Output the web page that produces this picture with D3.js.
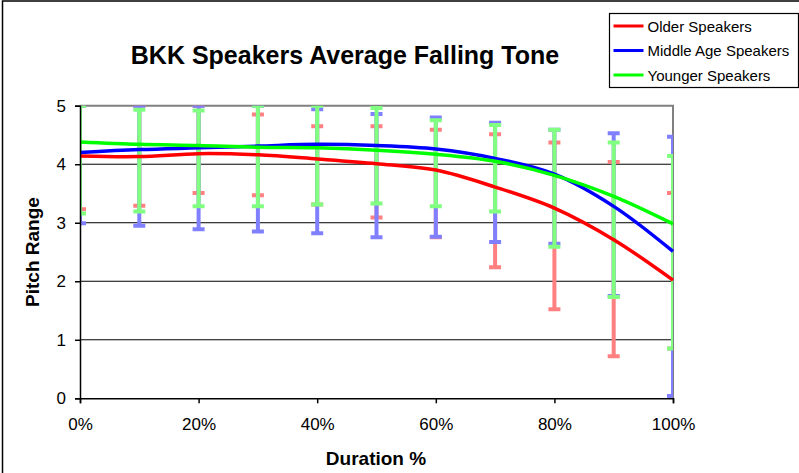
<!DOCTYPE html>
<html>
<head>
<meta charset="utf-8">
<script src="https://cdnjs.cloudflare.com/ajax/libs/d3/7.8.5/d3.min.js"></script>
<style>
  body { margin: 0; background: #fff; }
  #chart-area text { font-family: "Liberation Sans", Arial, sans-serif; }
</style>
</head>
<body>
<div id="chart-area"></div>
<script>

// duration in % of the tone
var durations = [0, 10, 20, 30, 40, 50, 60, 70, 80, 90, 100];

// average pitch per group
var olderMean   = [4.14, 4.13, 4.18, 4.16, 4.09, 4.01, 3.90, 3.61, 3.25, 2.71, 2.02];
var middleMean  = [4.20, 4.25, 4.28, 4.31, 4.34, 4.32, 4.26, 4.10, 3.83, 3.28, 2.51];
var youngerMean = [4.38, 4.34, 4.32, 4.29, 4.28, 4.24, 4.17, 4.05, 3.81, 3.45, 2.98];

// error bar ends
var olderLow    = [3.23, 3.29, 3.51, 3.47, 3.31, 3.09, 2.75, 2.24, 1.52, 0.72, 0.85];
var olderHigh   = [5.00, 5.00, 5.00, 4.85, 4.65, 4.65, 4.59, 4.51, 4.37, 4.04, 3.51];
var middleLow   = [2.99, 2.95, 2.89, 2.85, 2.82, 2.75, 2.76, 2.67, 2.64, 1.75, 0.04];
var middleHigh  = [5.00, 5.00, 5.00, 5.00, 4.94, 4.86, 4.80, 4.71, 4.59, 4.53, 4.47];
var youngerLow  = [3.16, 3.19, 3.28, 3.28, 3.31, 3.33, 3.28, 3.19, 2.59, 1.73, 0.85];
var youngerHigh = [5.00, 4.93, 4.92, 5.00, 5.00, 4.96, 4.75, 4.67, 4.59, 4.37, 4.14];

var seriesNames = ["Older Speakers", "Middle Age Speakers", "Younger Speakers"];
var xTicks = [0, 20, 40, 60, 80, 100];
var yTicks = [0, 1, 2, 3, 4, 5];


fallingToneChart = function(_parentElement){
    this.parentElement = _parentElement;
    this.series = [
        {name: seriesNames[0], mean: olderMean, low: olderLow, high: olderHigh, color: "#ff0000", bar: "#ff8080"},
        {name: seriesNames[1], mean: middleMean, low: middleLow, high: middleHigh, color: "#0000ff", bar: "#8080ff"},
        {name: seriesNames[2], mean: youngerMean, low: youngerLow, high: youngerHigh, color: "#00ff00", bar: "#80ff80"}
    ];
    this.initVis();
}

fallingToneChart.prototype.initVis = function(){
    var vis = this;

    vis.margin = {top: 105.7, right: 126, bottom: 74.7, left: 80};
    vis.width = 799 - vis.margin.left - vis.margin.right;
    vis.height = 473 - vis.margin.top - vis.margin.bottom;

    vis.root = d3.select("#" + vis.parentElement)
        .append("svg")
        .attr("width", 799)
        .attr("height", 473);

    // outer chart border
    vis.root.append("rect")
        .attr("x", 2.5).attr("y", 1)
        .attr("width", 820).attr("height", 500)
        .style("fill", "none")
        .style("stroke", "#000")
        .style("stroke-width", 1.5);

    vis.svg = vis.root.append("g")
        .attr("transform", "translate(" + vis.margin.left + "," + vis.margin.top + ")");

    vis.x = d3.scaleLinear().domain([0, 100]).range([0, vis.width]);
    vis.y = d3.scaleLinear().domain([0, 5]).range([vis.height, 0]);

    vis.svg.append("clipPath").attr("id", "plot-clip")
        .append("rect")
        .attr("width", vis.width)
        .attr("height", vis.height);

    // gridlines
    vis.svg.append("g")
        .selectAll("line")
        .data(yTicks.filter(function(d) { return d > 0 && d < 5; }))
        .enter().append("line")
        .attr("x1", 0).attr("x2", vis.width)
        .attr("y1", function(d) { return vis.y(d); })
        .attr("y2", function(d) { return vis.y(d); })
        .style("stroke", "#000")
        .style("stroke-width", 1);

    // plot area border (top / right)
    vis.svg.append("path")
        .attr("d", "M0," + vis.y(5) + "H" + vis.width + "V" + vis.height)
        .style("fill", "none")
        .style("stroke", "#808080")
        .style("stroke-width", 2);

    // error bars
    var plot = vis.svg.append("g").attr("clip-path", "url(#plot-clip)");
    vis.series.forEach(function(s) {
        var g = plot.append("g");
        g.selectAll(".bar").data(durations).enter().append("line")
            .attr("x1", function(d) { return vis.x(d); })
            .attr("x2", function(d) { return vis.x(d); })
            .attr("y1", function(d, i) { return vis.y(s.low[i]); })
            .attr("y2", function(d, i) { return vis.y(s.high[i]); })
            .style("stroke", s.bar)
            .style("stroke-width", 4);
        ["low", "high"].forEach(function(k) {
            g.selectAll(".cap-" + k).data(durations).enter().append("line")
                .attr("x1", function(d) { return vis.x(d) - 6; })
                .attr("x2", function(d) { return vis.x(d) + 6; })
                .attr("y1", function(d, i) { return vis.y(s[k][i]); })
                .attr("y2", function(d, i) { return vis.y(s[k][i]); })
                .style("stroke", s.bar)
                .style("stroke-width", 4);
        });
    });

    // smoothed lines
    vis.line = d3.line()
        .x(function(d) { return vis.x(d[0]); })
        .y(function(d) { return vis.y(d[1]); })
        .curve(d3.curveCatmullRom.alpha(0.5));

    vis.series.forEach(function(s) {
        vis.svg.append("path")
            .datum(durations.map(function(d, i) { return [d, s.mean[i]]; }))
            .attr("d", vis.line)
            .style("fill", "none")
            .style("stroke", s.color)
            .style("stroke-width", 3.5);
    });

    // axes
    vis.xAxis = d3.axisBottom(vis.x).tickValues(xTicks)
        .tickFormat(function(d) { return d + "%"; })
        .tickSize(5).tickPadding(15);
    vis.yAxis = d3.axisLeft(vis.y).tickValues(yTicks)
        .tickFormat(d3.format("d"))
        .tickSize(5).tickPadding(9);

    vis.svg.append("g")
        .attr("class", "axis x-axis")
        .attr("transform", "translate(0," + vis.height + ")")
        .call(vis.xAxis);
    vis.svg.append("g")
        .attr("class", "axis y-axis")
        .call(vis.yAxis);

    vis.svg.selectAll(".axis path, .axis line")
        .style("stroke", "#000")
        .style("stroke-width", 1.5);
    vis.svg.selectAll(".axis text")
        .style("font-size", "17px")
        .style("fill", "#000");

    // titles
    vis.root.append("text")
        .attr("x", 345).attr("y", 64)
        .attr("text-anchor", "middle")
        .style("font-size", "25px")
        .style("font-weight", "bold")
        .text("BKK Speakers Average Falling Tone");

    vis.root.append("text")
        .attr("x", 376).attr("y", 465)
        .attr("text-anchor", "middle")
        .style("font-size", "19px")
        .style("font-weight", "bold")
        .text("Duration %");

    vis.root.append("text")
        .attr("transform", "translate(39," + (vis.margin.top + vis.height / 2) + ") rotate(-90)")
        .attr("text-anchor", "middle")
        .style("font-size", "19px")
        .style("font-weight", "bold")
        .text("Pitch Range");

    // legend
    var legend = vis.root.append("g").attr("transform", "translate(609.5,13.5)");
    legend.append("rect")
        .attr("width", 189).attr("height", 74)
        .style("fill", "#fff")
        .style("stroke", "#000")
        .style("stroke-width", 1.2);
    var rows = legend.selectAll(".row").data(vis.series).enter().append("g")
        .attr("transform", function(d, i) { return "translate(0," + (12.5 + i * 24.5) + ")"; });
    rows.append("line")
        .attr("x1", 4).attr("x2", 34)
        .style("stroke", function(d) { return d.color; })
        .style("stroke-width", 3);
    rows.append("text")
        .attr("x", 38).attr("y", 5.5)
        .style("font-size", "15px")
        .text(function(d) { return d.name; });
}

new fallingToneChart("chart-area");

</script>
</body>
</html>
